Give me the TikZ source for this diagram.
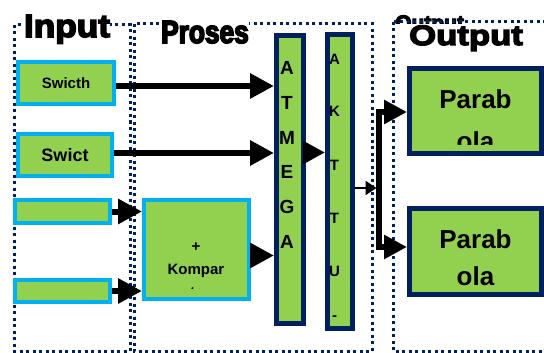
\documentclass[tikz,border=0pt]{standalone}
\usepackage{fontspec}
\setmainfont{Liberation Sans}
\newfontfamily\titlefont{Liberation Sans}[BoldFeatures={FakeBold=5}]
\usetikzlibrary{arrows.meta}
\definecolor{boxgreen}{HTML}{92D050}
\definecolor{boxcyan}{HTML}{00B0F0}
\definecolor{navy}{HTML}{002060}
\begin{document}
\begin{tikzpicture}[x=1pt,y=-1pt]
		\tikzstyle{inbox}=[draw=boxcyan,fill=boxgreen,line width=4pt,font=\bfseries\fontsize{15}{15}\selectfont]
		\tikzstyle{chipbox}=[draw=navy,fill=boxgreen,line width=5pt]
		\tikzstyle{frame}=[draw=navy,line width=3pt,dash pattern=on 3pt off 3.5pt]
		\tikzstyle{title}=[fill=white,inner sep=0pt,anchor=base]
		\tikzstyle{lbl}=[anchor=base,inner sep=0pt,font=\bfseries\fontsize{15}{15}\selectfont]
		\tikzstyle{biglbl}=[anchor=base,inner sep=0pt,font=\bfseries\fontsize{26}{26}\selectfont]
		\tikzstyle{bigarrow}=[line width=6pt,-{Triangle[length=24pt,width=24pt]}]
		\path[use as bounding box,fill=white] (0,0) rectangle (544,353);
		\begin{scope}
			\clip (380,0) rectangle (544,23.5);
			\node[anchor=base west,inner sep=0pt,font=\titlefont\bfseries\fontsize{21}{21}\selectfont] (ghost) at (395,30) {Output};
		\end{scope}
		\draw[frame] (14,25) rectangle (130,351);
		\draw[frame] (134,24) rectangle (372,351);
		\draw[frame] (393,22) rectangle (550,351);
		\node[inbox,minimum width=96pt,minimum height=42pt] (swicth) at (66,83) {Swicth};
		\node[inbox,minimum width=94pt,minimum height=42pt,font=\bfseries\fontsize{18}{18}\selectfont] (swict) at (65,155) {Swict};
		\node[inbox,minimum width=95pt,minimum height=23pt] (in3) at (62.5,211.5) {};
		\node[inbox,minimum width=95pt,minimum height=22pt] (in4) at (62.5,291) {};
		\node[inbox,minimum width=105pt,minimum height=99pt] (kompar) at (196.5,249.5) {};
		\node[lbl] (plus) at (196,251) {+};
		\node[lbl] (komparlbl) at (196,274) {Kompar};
		\begin{scope}
			\clip (142,200) rectangle (251,288);
			\node[lbl] (atorlbl) at (196,297) {ator};
		\end{scope}
		\node[chipbox,minimum width=27pt,minimum height=288pt] (atmega) at (290,179.5) {};
		\foreach \l [count=\i from 0] in {A,T,M,E,G,A}
			\node[anchor=base,inner sep=0pt,font=\bfseries\fontsize{19}{19}\selectfont] (atm\i) at (287,75+34.6*\i) {\l};
		\node[chipbox,minimum width=25pt,minimum height=294pt] (aktu) at (340,181.5) {};
		\foreach \l/\y [count=\i] in {A/65,K/117,T/170,T/223,U/276,-/320}
			\node[anchor=base,inner sep=0pt,font=\bfseries\fontsize{15}{15}\selectfont] (akt\i) at (334.5,\y) {\l};
		\node[chipbox,minimum width=132pt,minimum height=85pt] (parab1) at (475.5,111) {};
		\node[biglbl] (parab1a) at (475.5,108) {Parab};
		\begin{scope}
			\clip (410,100) rectangle (540,144);
			\node[biglbl] (parab1b) at (475.5,150) {ola};
		\end{scope}
		\node[chipbox,minimum width=132pt,minimum height=86pt] (parab2) at (475.5,251.5) {};
		\node[biglbl] (parab2a) at (475.5,248) {Parab};
		\node[biglbl] (parab2b) at (475.5,285) {ola};
		\coordinate (jtop) at (379,112);
		\coordinate (jbot) at (379,247);
		\coordinate (jin) at (376.5,188);
		\draw[bigarrow] ([yshift=-3pt]swicth.east) -- ([yshift=-3pt]swicth.east -| atmega.west);
		\draw[bigarrow] ([yshift=2pt]swict.east) -- ([yshift=2pt]swict.east -| atmega.west);
		\draw[bigarrow] (in3.east) -- (in3.east -| kompar.west);
		\draw[bigarrow] (in4.east) -- (in4.east -| kompar.west);
		\draw[bigarrow] ([yshift=-6pt]kompar.east) -- ([yshift=-6pt]kompar.east -| atmega.west);
		\draw[line width=6pt,-{Triangle[length=22pt,width=22pt]}] ([yshift=27pt]atmega.east) -- ([yshift=27pt]atmega.east -| aktu.west);
		\draw[line width=2pt,-{Triangle[length=11pt,width=14pt]}] (aktu.east |- jin) -- (jin);
		\draw[bigarrow,-{Triangle[length=23pt,width=23pt]}] (jbot) -- (jtop) -- (jtop -| parab1.west);
		\draw[bigarrow,-{Triangle[length=23pt,width=23pt]}] (jtop) -- (jbot) -- (jbot -| parab2.west);
		\node[title,font=\titlefont\bfseries\fontsize{32}{32}\selectfont\addfontfeatures{FakeStretch=1.1}] (intitle) at (67,37) {Input};
		\node[title,font=\titlefont\bfseries\fontsize{32}{32}\selectfont\addfontfeatures{FakeStretch=0.82}] (prosestitle) at (205,43) {Proses};
		\node[title,font=\titlefont\bfseries\fontsize{28}{28}\selectfont\addfontfeatures{FakeStretch=1.24}] (outtitle) at (466,45) {Output};
\end{tikzpicture}
\end{document}
